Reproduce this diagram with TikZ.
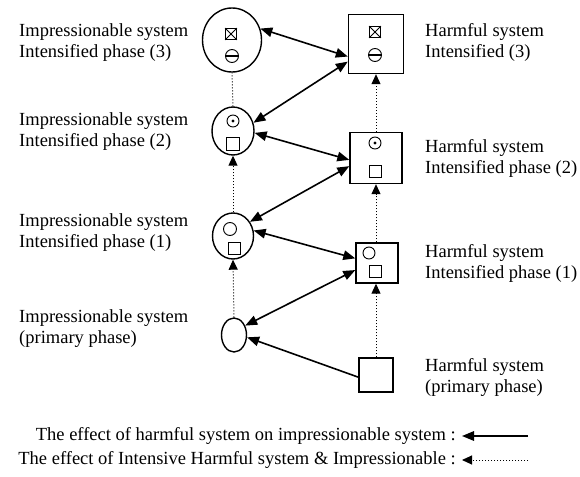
\documentclass[tikz,border=0pt]{standalone}
\usepackage{fontspec}
\setmainfont{Liberation Serif}
\usetikzlibrary{arrows.meta,shapes.geometric}
\begin{document}
\begin{tikzpicture}[x=1pt,y=-1pt,
  lab/.style={anchor=west,align=left,inner sep=0pt,font=\fontsize{18.5}{21}\selectfont},
  leg/.style={anchor=east,inner sep=0pt,font=\fontsize{18.5}{21}\selectfont},
  ell/.style={draw,ellipse,line width=1.4pt,inner sep=0pt},
  sq/.style={draw,rectangle,line width=1.4pt,inner sep=0pt},
  dbl/.style={line width=1.6pt,{Triangle[length=12pt,width=9.5pt]}-{Triangle[length=12pt,width=9.5pt]}},
  sgl/.style={line width=1.6pt,-{Triangle[length=12pt,width=9.5pt]}},
  dot/.style={line width=1pt,dotted,-{Triangle[length=10pt,width=9pt]}},
  dotn/.style={line width=1pt,dotted},
  bsq/.style={draw,rectangle,line width=0.9pt,minimum size=12pt,inner sep=0pt},
  bcirc/.style={draw,circle,line width=0.9pt,minimum size=13pt,inner sep=0pt},
]
\useasboundingbox (0,0) rectangle (580,476);
% left column
\node[ell,minimum width=59pt,minimum height=64pt] (c3) at (232,40) {};
\node[ell,minimum width=42pt,minimum height=48pt] (c2) at (233,131) {};
\node[ell,minimum width=41pt,minimum height=46pt] (c1) at (233,236) {};
\node[ell,minimum width=25pt,minimum height=34pt] (c0) at (234,335) {};
% right column
\node[sq,minimum width=55pt,minimum height=59pt] (s3) at (376,44) {};
\node[sq,minimum width=52pt,minimum height=51pt] (s2) at (376,158) {};
\node[sq,minimum width=42pt,minimum height=40pt] (s1) at (377,263) {};
\node[sq,minimum width=34pt,minimum height=34pt] (s0) at (376,375) {};
% inner symbols: top circle
\node[bsq,minimum size=11pt] (c3a) at (231,34) {};
\draw[line width=0.8pt] (c3a.north west) -- (c3a.south east) (c3a.north east) -- (c3a.south west);
\node[bcirc] (c3b) at (232,56) {};
\draw[line width=1.1pt] (c3b.west) -- (c3b.east);
% top square
\node[bsq,minimum size=11pt] (s3a) at (375,32) {};
\draw[line width=0.8pt] (s3a.north west) -- (s3a.south east) (s3a.north east) -- (s3a.south west);
\node[bcirc] (s3b) at (375,55) {};
\draw[line width=1.1pt] (s3b.west) -- (s3b.east);
% phase 2
\node[bcirc,minimum size=12pt] (c2a) at (233,121) {};
\fill (c2a.center) circle (1.7pt);
\node[bsq,minimum size=13pt] (c2b) at (233,144) {};
\node[bcirc,minimum size=12pt] (s2a) at (375,143) {};
\fill (s2a.center) circle (1.7pt);
\node[bsq,minimum size=12pt] (s2b) at (375,171) {};
% phase 1
\node[bcirc] (c1a) at (230,229) {};
\node[bsq] (c1b) at (234,248) {};
\node[bcirc,minimum size=12pt] (s1a) at (369,253) {};
\node[bsq,minimum size=12pt] (s1b) at (375,271) {};
% solid arrows
\draw[dbl] (c3.22) -- (s3.204);
\draw[dbl] (s3.212) -- (c2.22);
\draw[dbl] (c2.355) -- (s2.184);
\draw[dbl] (s2.197) -- (c1.40);
\draw[dbl] (c1.15) -- (s1.168);
\draw[dbl] (s1.198) -- (c0.40);
\draw[sgl] (s0.187) -- (c0.350);
% dotted arrows
\draw[dot] (c0.north) -- (c1.south);
\draw[dot] (c1.north) -- (c2.south);
\draw[dotn] (c2.north) -- (c3.south);
\draw[dot] (s0.north) -- (s1.south -| s0.north);
\draw[dot] (s1.north -| s2.south) -- (s2.south);
\draw[dot] (s2.north) -- (s3.south -| s2.north);
% labels
\node[lab] (l3) at (19,43) {Impressionable system\\Intensified phase (3)};
\node[lab] (l2) at (19,132) {Impressionable system\\Intensified phase (2)};
\node[lab] (l1) at (19,233) {Impressionable system\\Intensified phase (1)};
\node[lab] (l0) at (19,329) {Impressionable system\\(primary phase)};
\node[lab] (r3) at (425,42) {Harmful system\\Intensified (3)};
\node[lab] (r2) at (425,158) {Harmful system\\Intensified phase (2)};
\node[lab] (r1) at (425,263) {Harmful system\\Intensified phase (1)};
\node[lab] (r0) at (425,377) {Harmful system\\(primary phase)};
% legend
\node[leg] (g1) at (456,436) {The effect of harmful system on impressionable system :};
\node[leg] (g2) at (456,460) {The effect of Intensive Harmful system \& Impressionable :};
\coordinate (g1a) at (528,436);
\coordinate (g1b) at (462,436);
\coordinate (g2a) at (528,460);
\coordinate (g2b) at (462,460);
\draw[sgl] (g1a) -- (g1b);
\draw[dot] (g2a) -- (g2b);
\end{tikzpicture}
\end{document}
